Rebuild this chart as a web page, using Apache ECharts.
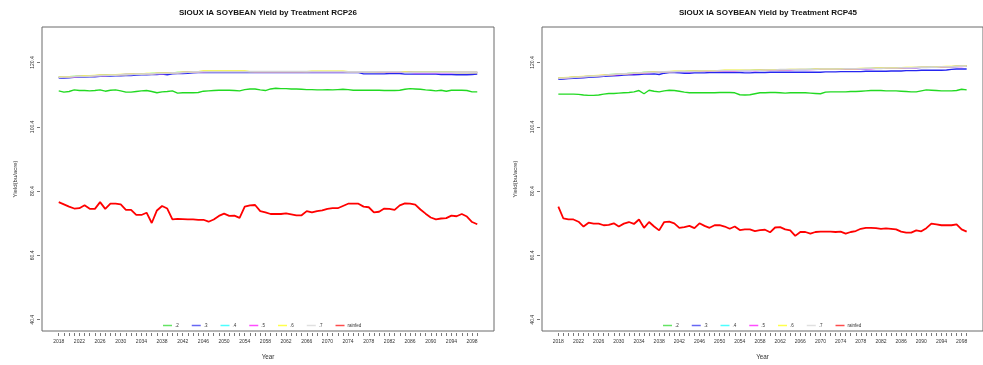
<!DOCTYPE html>
<html><head><meta charset="utf-8">
<script src="https://cdn.jsdelivr.net/npm/echarts@6/dist/echarts.min.js"></script>
<style>html,body{margin:0;padding:0;background:#fff}#c{width:983px;height:365px}</style>
</head><body><div id="c"></div>
<script>
const years = [2018,2019,2020,2021,2022,2023,2024,2025,2026,2027,2028,2029,2030,2031,2032,2033,2034,2035,2036,2037,2038,2039,2040,2041,2042,2043,2044,2045,2046,2047,2048,2049,2050,2051,2052,2053,2054,2055,2056,2057,2058,2059,2060,2061,2062,2063,2064,2065,2066,2067,2068,2069,2070,2071,2072,2073,2074,2075,2076,2077,2078,2079,2080,2081,2082,2083,2084,2085,2086,2087,2088,2089,2090,2091,2092,2093,2094,2095,2096,2097,2098,2099];
const xTickLabels = [2018,2022,2026,2030,2034,2038,2042,2046,2050,2054,2058,2062,2066,2070,2074,2078,2082,2086,2090,2094,2098];
const yTickLabels = [40.4,60.4,80.4,100.4,120.4];
const seriesNames = ['.2','.3','.4','.5','.6','.7','rainfed'];
const titles = ['SIOUX IA SOYBEAN Yield by Treatment RCP26','SIOUX IA SOYBEAN Yield by Treatment RCP45'];

// RCP26
const rcp26_t2 = [111.6,111.2,111.4,111.9,111.7,111.7,111.6,111.7,111.9,111.5, 111.8,111.9,111.6,111.2,111.2,111.4,111.6,111.7,111.4,111.0, 111.3,111.4,111.6,110.9,111.0,111.0,111.0,111.1,111.5,111.6, 111.7,111.8,111.8,111.8,111.7,111.6,112.0,112.2,112.2,111.9, 111.7,112.2,112.4,112.3,112.3,112.2,112.2,112.1,112.0,112.0, 111.9,111.9,112.0,111.9,112.0,112.1,112.0,111.8,111.8,111.8, 111.8,111.8,111.8,111.7,111.7,111.7,111.8,112.1,112.3,112.2, 112.1,111.9,111.8,111.6,111.8,111.5,111.8,111.8,111.8,111.7, 111.3,111.3];
const rcp26_t3 = [115.6,115.6,115.7,115.8,115.9,115.9,116.0,116.0,116.1,116.2, 116.2,116.3,116.3,116.4,116.4,116.5,116.6,116.6,116.7,116.7, 116.8,116.6,116.9,117.0,117.0,117.1,117.2,117.3,117.3,117.3, 117.3,117.3,117.3,117.3,117.3,117.3,117.3,117.3,117.3,117.3, 117.3,117.3,117.3,117.3,117.3,117.3,117.3,117.3,117.3,117.3, 117.3,117.3,117.3,117.3,117.3,117.3,117.3,117.3,117.3,116.9, 116.9,116.9,116.9,116.9,117.0,117.0,117.0,116.8,116.8,116.8, 116.8,116.8,116.8,116.8,116.7,116.7,116.7,116.6,116.6,116.6, 116.7,116.8];
const rcp26_t4 = [115.9,115.9,116.0,116.1,116.2,116.2,116.3,116.3,116.4,116.5, 116.5,116.6,116.6,116.7,116.7,116.8,116.9,116.9,117.0,117.0, 117.1,117.1,117.2,117.3,117.3,117.4,117.5,117.6,117.6,117.6, 117.6,117.6,117.6,117.6,117.6,117.6,117.6,117.6,117.6,117.6, 117.6,117.6,117.6,117.6,117.6,117.6,117.6,117.6,117.5,117.5, 117.5,117.5,117.5,117.5,117.5,117.5,117.5,117.5,117.5,117.5, 117.5,117.5,117.5,117.5,117.4,117.4,117.4,117.4,117.4,117.4, 117.4,117.4,117.4,117.4,117.4,117.4,117.4,117.3,117.3,117.3, 117.3,117.3];
const rcp26_t5 = [115.8,115.9,116.0,116.0,116.1,116.2,116.2,116.3,116.4,116.4, 116.5,116.5,116.6,116.7,116.7,116.8,116.8,116.9,116.9,117.0, 117.0,117.1,117.2,117.2,117.3,117.4,117.4,117.5,117.5,117.6, 117.6,117.6,117.6,117.6,117.6,117.6,117.6,117.6,117.5,117.5, 117.5,117.5,117.5,117.5,117.5,117.5,117.5,117.5,117.5,117.5, 117.5,117.5,117.5,117.5,117.5,117.5,117.5,117.5,117.5,117.5, 117.5,117.5,117.4,117.4,117.4,117.4,117.4,117.4,117.4,117.3, 117.3,117.3,117.3,117.3,117.3,117.3,117.3,117.3,117.3,117.3, 117.3,117.3];
const rcp26_t6 = [115.9,116.0,116.0,116.1,116.2,116.3,116.3,116.4,116.5,116.5, 116.6,116.6,116.7,116.7,116.8,116.9,116.9,117.0,117.0,117.1, 117.1,117.2,117.2,117.3,117.4,117.4,117.5,117.6,117.8,117.8, 117.8,117.8,117.8,117.8,117.8,117.8,117.8,117.6,117.6,117.6, 117.6,117.6,117.6,117.6,117.6,117.6,117.6,117.6,117.6,117.7, 117.7,117.7,117.7,117.7,117.7,117.7,117.6,117.6,117.6,117.6, 117.5,117.5,117.5,117.5,117.6,117.6,117.6,117.6,117.4,117.4, 117.4,117.4,117.4,117.4,117.4,117.4,117.4,117.3,117.3,117.3, 117.3,117.3];
const rcp26_t7 = [115.8,115.9,115.9,116.0,116.1,116.1,116.2,116.3,116.3,116.4, 116.5,116.5,116.6,116.6,116.7,116.8,116.8,116.9,116.9,117.0, 117.0,117.1,117.2,117.2,117.3,117.4,117.5,117.5,117.6,117.6, 117.6,117.6,117.6,117.6,117.6,117.6,117.6,117.6,117.6,117.6, 117.6,117.6,117.6,117.6,117.6,117.6,117.6,117.6,117.6,117.6, 117.6,117.6,117.6,117.6,117.6,117.6,117.5,117.5,117.5,117.5, 117.5,117.5,117.5,117.5,117.5,117.5,117.5,117.4,117.4,117.4, 117.4,117.4,117.4,117.4,117.4,117.4,117.4,117.4,117.4,117.4, 117.4,117.4];
const rcp26_rainfed = [77.0,76.3,75.6,75.0,75.1,76.0,74.9,74.9,77.0,74.9, 76.5,76.5,76.3,74.6,74.6,73.0,73.0,73.7,70.5,74.4, 75.8,75.0,71.6,71.8,71.7,71.6,71.6,71.5,71.5,70.9, 71.6,72.7,73.4,72.7,72.8,72.1,75.6,76.0,76.1,74.2, 73.8,73.3,73.3,73.3,73.5,73.2,72.9,72.9,74.2,73.8, 74.2,74.4,74.9,75.1,75.1,75.8,76.5,76.5,76.5,75.6, 75.4,73.8,74.0,75.0,74.9,74.6,76.0,76.6,76.5,76.2, 74.7,73.4,72.2,71.6,71.9,72.0,72.8,72.6,73.3,72.5, 70.8,70.1];

// RCP45
const rcp45_t2 = [110.6,110.6,110.6,110.6,110.5,110.3,110.2,110.2,110.3,110.6, 110.8,110.8,110.9,111.0,111.1,111.3,111.7,110.7,111.8,111.5, 111.3,111.6,111.8,111.7,111.5,111.2,111.0,111.0,111.0,111.0, 111.0,111.0,111.1,111.1,111.1,111.0,110.4,110.3,110.4,110.7, 111.0,111.0,111.1,111.1,111.0,110.9,111.0,111.0,111.0,111.0, 110.9,110.8,110.7,111.2,111.3,111.3,111.3,111.3,111.4,111.4, 111.5,111.6,111.7,111.7,111.7,111.6,111.6,111.6,111.5,111.4, 111.3,111.3,111.6,111.9,111.8,111.7,111.6,111.6,111.6,111.7, 112.1,111.9];
const rcp45_t3 = [115.2,115.3,115.4,115.5,115.6,115.7,115.8,115.9,116.0,116.1, 116.2,116.3,116.4,116.5,116.6,116.6,116.7,116.8,116.8,116.9, 116.7,117.1,117.3,117.3,117.2,117.1,117.1,117.2,117.2,117.2, 117.3,117.3,117.3,117.3,117.3,117.3,117.3,117.2,117.2,117.3, 117.3,117.3,117.4,117.4,117.4,117.4,117.4,117.4,117.4,117.4, 117.4,117.4,117.4,117.5,117.5,117.5,117.6,117.6,117.6,117.6, 117.6,117.7,117.7,117.7,117.7,117.7,117.8,117.8,117.8,117.9, 117.9,117.9,118.0,118.0,118.0,118.0,118.0,118.1,118.3,118.4, 118.4,118.4];
const rcp45_t4 = [115.5,115.6,115.7,115.8,115.9,116.0,116.1,116.2,116.3,116.4, 116.6,116.7,116.8,116.9,117.0,117.1,117.2,117.3,117.4,117.4, 117.5,117.5,117.6,117.6,117.6,117.6,117.7,117.7,117.7,117.7, 117.8,117.8,117.8,117.8,117.8,117.9,117.9,117.9,117.9,118.0, 118.0,118.0,118.1,118.1,118.1,118.1,118.2,118.2,118.2,118.2, 118.3,118.3,118.3,118.3,118.3,118.4,118.4,118.4,118.4,118.5, 118.5,118.5,118.6,118.6,118.6,118.6,118.7,118.7,118.7,118.8, 118.8,118.8,118.9,118.9,119.0,119.0,119.1,119.1,119.1,119.2, 119.3,119.3];
const rcp45_t5 = [115.5,115.6,115.7,115.8,115.9,116.0,116.1,116.2,116.3,116.4, 116.5,116.6,116.7,116.8,116.9,117.0,117.1,117.2,117.3,117.4, 117.4,117.5,117.5,117.6,117.6,117.6,117.6,117.7,117.7,117.7, 117.7,117.8,117.8,117.8,117.8,117.8,117.9,117.9,117.9,117.9, 118.0,118.0,118.0,118.1,118.1,118.1,118.1,118.2,118.2,118.2, 118.2,118.3,118.3,118.3,118.3,118.3,118.4,118.4,118.4,118.4, 118.5,118.5,118.5,118.6,118.6,118.6,118.7,118.7,118.7,118.8, 118.8,118.8,118.9,118.9,118.9,119.0,119.0,119.1,119.1,119.2, 119.2,119.3];
const rcp45_t6 = [115.6,115.7,115.8,115.9,116.0,116.1,116.2,116.3,116.4,116.5, 116.6,116.7,116.8,116.9,117.0,117.1,117.2,117.3,117.4,117.5, 117.5,117.6,117.6,117.7,117.7,117.7,117.8,117.8,117.8,117.9, 117.9,117.9,117.9,118.0,118.0,118.0,118.0,118.0,118.0,118.1, 118.1,118.1,118.2,118.2,118.2,118.2,118.3,118.3,118.3,118.3, 118.3,118.4,118.4,118.4,118.4,118.4,118.5,118.5,118.5,118.5, 118.6,118.6,118.6,118.7,118.7,118.7,118.8,118.8,118.8,118.9, 118.9,118.9,119.0,119.0,119.0,119.1,119.1,119.2,119.2,119.3, 119.3,119.4];
const rcp45_t7 = [115.5,115.6,115.7,115.8,115.9,116.0,116.1,116.2,116.3,116.4, 116.6,116.7,116.8,116.9,117.0,117.1,117.2,117.3,117.4,117.4, 117.5,117.5,117.6,117.6,117.7,117.7,117.7,117.7,117.8,117.8, 117.8,117.8,117.9,117.9,117.9,117.9,117.9,118.0,118.0,118.0, 118.0,118.1,118.1,118.1,118.2,118.2,118.2,118.2,118.3,118.3, 118.3,118.3,118.4,118.4,118.4,118.4,118.4,118.5,118.5,118.5, 118.5,118.6,118.6,118.6,118.6,118.7,118.7,118.7,118.8,118.8, 118.8,118.9,118.9,118.9,119.0,119.0,119.1,119.1,119.1,119.2, 119.3,119.3];
const rcp45_rainfed = [75.6,71.9,71.6,71.6,70.9,69.4,70.6,70.3,70.3,69.8, 69.9,70.4,69.4,70.3,70.8,70.2,71.6,69.0,70.8,69.4, 68.2,70.8,70.9,70.4,69.0,69.2,69.6,68.9,70.4,69.6, 69.0,69.8,69.8,69.4,68.7,69.4,68.3,68.5,68.5,68.0, 68.3,68.4,67.6,69.1,69.2,68.5,68.2,66.5,67.7,67.7, 67.2,67.7,67.8,67.8,67.8,67.7,67.8,67.2,67.7,68.0, 68.7,69.0,69.0,68.9,68.7,68.8,68.7,68.5,67.8,67.5, 67.5,68.2,67.9,68.9,70.3,70.1,69.8,69.8,69.8,70.1, 68.5,67.8];

const panels = [
  [rcp26_t2, rcp26_t3, rcp26_t4, rcp26_t5, rcp26_t6, rcp26_t7, rcp26_rainfed],
  [rcp45_t2, rcp45_t3, rcp45_t4, rcp45_t5, rcp45_t6, rcp45_t7, rcp45_rainfed]
];
const colors = ['#22d922', '#2626f0', '#00ffff', '#ff00ff', '#ffff00', '#d3d3d3', '#ff0000'];
const widths = [1.4, 1.4, 1.4, 1.4, 1.4, 1.6, 1.8];

const FONT = 'Liberation Sans, Arial, sans-serif';
const panelLeft = [42, 542];
const grids = [], xAxes = [], yAxes = [], series = [], titleArr = [], legends = [];
panels.forEach((arrs, p) => {
  grids.push({left: panelLeft[p], top: 27, width: 452, height: 305, show: true,
    borderColor: '#6a6a6a', borderWidth: 1, backgroundColor: 'transparent', containLabel: false});
  xAxes.push({
    type: 'value', gridIndex: p, min: 2014.76, max: 2102.24, offset: 2,
    name: 'Year', nameLocation: 'middle', nameGap: 21,
    nameTextStyle: {fontFamily: FONT, fontSize: 6.3, color: '#333'},
    axisLine: {show: false},
    axisTick: {show: true, length: 3, lineStyle: {color: '#555', width: 0.8}, customValues: years},
    axisLabel: {show: true, customValues: xTickLabels, fontFamily: FONT, fontSize: 5, color: '#333', margin: 6, formatter: v => String(v)},
    splitLine: {show: false}
  });
  yAxes.push({
    type: 'value', gridIndex: p, min: 36.9, max: 131.47, offset: 2,
    name: 'Yield(bu/acre)', nameLocation: 'middle', nameGap: 22,
    nameTextStyle: {fontFamily: FONT, fontSize: 6, color: '#333'},
    axisLine: {show: false},
    axisTick: {show: true, length: 3, lineStyle: {color: '#555', width: 0.8}, customValues: yTickLabels},
    axisLabel: {show: true, customValues: yTickLabels, rotate: 90, fontFamily: FONT, fontSize: 5, color: '#333', margin: 5, formatter: v => v.toFixed(1)},
    splitLine: {show: false}
  });
  titleArr.push({text: titles[p], left: panelLeft[p] + 226, top: 9, padding: 0, textAlign: 'center',
    textStyle: {fontFamily: FONT, fontSize: 8, fontWeight: 'bold', color: '#111'}});
  legends.push({
    data: seriesNames, left: panelLeft[p] + 121, top: 323, padding: 0, orient: 'horizontal',
    icon: 'rect', itemWidth: 9, itemHeight: 1.5, itemGap: 13,
    itemStyle: {opacity: 0.7},
    textStyle: {fontFamily: FONT, fontSize: 4.5, color: '#333', padding: [0, 0, 0, -2]},
    selectedMode: false
  });
  arrs.forEach((arr, i) => {
    series.push({
      name: seriesNames[i], type: 'line', xAxisIndex: p, yAxisIndex: p,
      data: years.map((y, k) => [y, arr[k]]),
      showSymbol: false, symbol: 'none', smooth: false,
      lineStyle: {color: colors[i], width: widths[i]},
      itemStyle: {color: colors[i]},
      emphasis: {disabled: true}, silent: true
    });
  });
});

const chart = echarts.init(document.getElementById('c'), null, {renderer: 'canvas'});
chart.setOption({
  animation: false, backgroundColor: '#ffffff',
  title: titleArr, legend: legends, grid: grids, xAxis: xAxes, yAxis: yAxes, series: series
});
</script></body></html>
